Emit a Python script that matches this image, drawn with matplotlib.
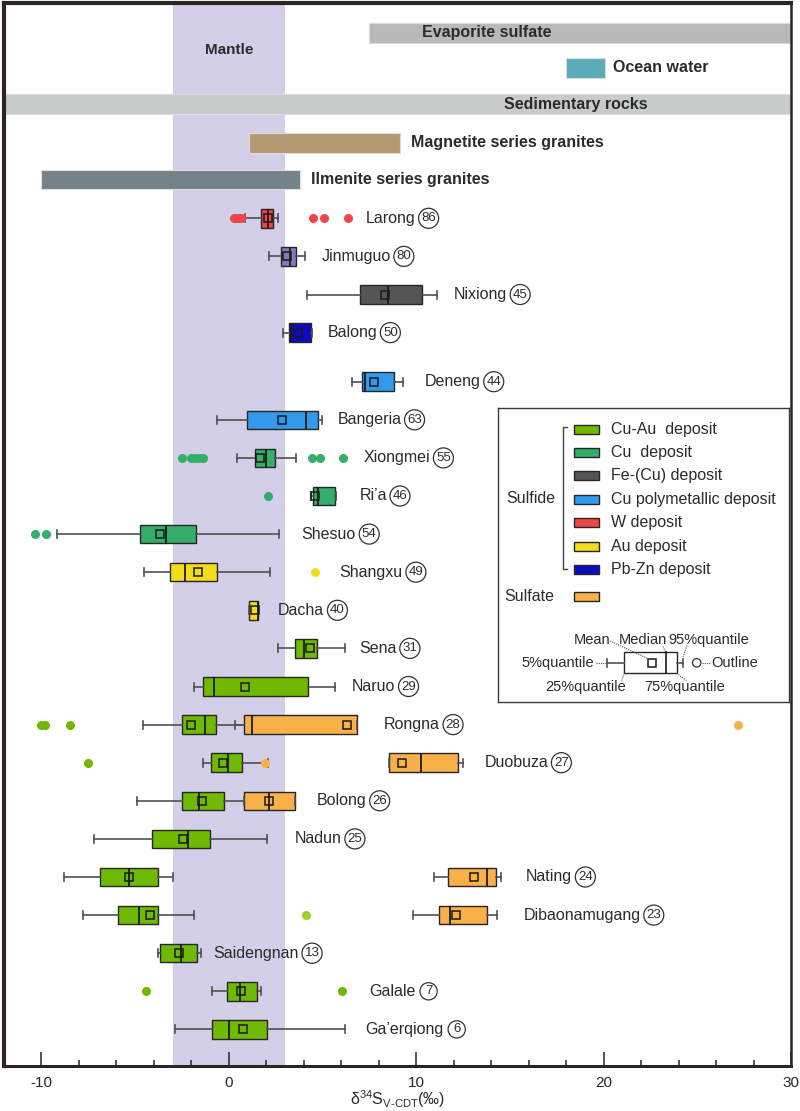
import matplotlib
matplotlib.use("Agg")
import matplotlib.pyplot as plt
from matplotlib.patches import Rectangle, Circle
from matplotlib.ticker import MultipleLocator

plt.rcParams['font.family'] = ['Liberation Sans', 'DejaVu Sans']
plt.rcParams['mathtext.fontset'] = 'custom'
plt.rcParams['mathtext.rm'] = 'Liberation Sans'

# ---------------- data ----------------
deposits = ['Larong', 'Jinmuguo', 'Nixiong', 'Balong', 'Deneng', 'Bangeria', 'Xiongmei',
            "Ri\u2019a", 'Shesuo', 'Shangxu', 'Dacha', 'Sena', 'Naruo', 'Rongna', 'Duobuza',
            'Bolong', 'Nadun', 'Nating', 'Dibaonamugang', 'Saidengnan', 'Galale', "Ga\u2019erqiong"]
counts = [86, 80, 45, 50, 44, 63, 55, 46, 54, 49, 40, 31, 29, 28, 27, 26, 25, 24, 23, 13, 7, 6]
dep_type = ['W', 'Mo', 'Fe-(Cu)', 'Pb-Zn', 'Cu poly', 'Cu poly', 'Cu', 'Cu', 'Cu', 'Au', 'Au',
            'Cu-Au', 'Cu-Au', 'Cu-Au', 'Cu-Au', 'Cu-Au', 'Cu-Au', 'Cu-Au', 'Cu-Au', 'Cu-Au',
            'Cu-Au', 'Cu-Au']

# sulfide statistics (permil)
sf_whislo = [0.85, 2.15, 4.18, 2.9, 6.59, -0.62, 0.46, 4.41, -9.16, -4.53, 1.07, 2.63, -1.88,
             -4.6, -1.37, -4.9, -7.21, -8.81, -7.79, -3.78, -0.88, -2.89]
sf_q1 = [1.74, 2.77, 6.98, 3.2, 7.09, 0.98, 1.37, 4.5, -4.74, -3.12, 1.07, 3.54, -1.39,
         -2.5, -0.96, -2.5, -4.08, -6.9, -5.91, -3.69, -0.09, -0.88]
sf_med = [2.1, 3.27, 8.49, 3.3, 7.25, 4.1, 1.97, 4.76, -3.34, -2.34, 1.55, 4.02, -0.8,
          -1.28, -0.07, -1.6, -2.2, -5.34, -4.79, -2.57, 0.61, 0.0]
sf_mean = [2.1, 3.11, 8.33, 3.7, 7.76, 2.83, 1.67, 4.58, -3.65, -1.67, 1.39, 4.34, 0.84,
           -2.0, -0.3, -1.44, -2.43, -5.34, -4.21, -2.68, 0.64, 0.77]
sf_q3 = [2.37, 3.59, 10.3, 4.41, 8.79, 4.78, 2.47, 5.68, -1.74, -0.64, 1.57, 4.73, 4.23,
         -0.69, 0.71, -0.25, -0.99, -3.76, -3.8, -1.68, 1.51, 2.02]
sf_whishi = [2.63, 4.09, 11.1, 4.45, 9.29, 4.97, 3.59, 5.74, 2.66, 2.19, 1.57, 6.22, 5.65,
             1.0, 2.1, 2.33, 2.02, -3.0, -1.88, -1.51, 1.69, 6.22]
sf_fliers = [[0.25, 0.4, 0.55, 0.65, 4.5, 5.08, 6.36], [], [], [], [], [],
             [-2.5, -2.0, -1.8, -1.6, -1.4, 4.46, 4.85, 6.09], [2.08], [-10.37, -9.77], [4.58],
             [], [], [], [-10.0, -9.8, -8.5], [-7.51], [], [], [], [4.1], [], [-4.42, 6.02], []]

# sulfate statistics
so_deposits = ['Rongna', 'Duobuza', 'Bolong', 'Nating', 'Dibaonamugang']
so_whislo = [0.32, 8.52, 0.82, 10.94, 9.82]
so_q1 = [0.82, 8.52, 0.82, 11.72, 11.24]
so_med = [1.26, 10.25, 2.15, 13.75, 11.8]
so_mean = [6.29, 9.25, 2.15, 13.07, 12.13]
so_q3 = [6.82, 12.25, 3.52, 14.23, 13.75]
so_whishi = [6.82, 12.49, 3.52, 14.53, 14.32]
so_fliers = [[27.15], [1.92], [], [], []]

# reference reservoirs
ref_names = ['Evaporite sulfate', 'Ocean water', 'Sedimentary rocks',
             'Magnetite series granites', 'Ilmenite series granites']
ref_lo = [7.5, 18.0, -12.0, 1.1, -10.05]
ref_hi = [30.0, 20.1, 30.0, 9.15, 3.82]
mantle_lo, mantle_hi = -3.0, 3.0

legend_types = ['Cu-Au', 'Cu', 'Fe-(Cu)', 'Cu poly', 'W', 'Au', 'Pb-Zn']
legend_labels = ['Cu-Au  deposit', 'Cu  deposit', 'Fe-(Cu) deposit', 'Cu polymetallic deposit',
                 'W deposit', 'Au deposit', 'Pb-Zn deposit']

# ---------------- styles / layout ----------------
type_color = {'Cu-Au': '#6fb900', 'Cu': '#34ae6a', 'Fe-(Cu)': '#555555', 'Cu poly': '#3399ea',
              'W': '#f04545', 'Au': '#f3dc1a', 'Pb-Zn': '#0b0cbf', 'Mo': '#8877bd'}
sulfate_color = '#f8b048'
ref_colors = ['#b9b9b9', '#58abb7', '#c9cbca', '#b39a73', '#758389']
ref_y = [33, 68, 104, 143, 179.5]
ref_h = [20, 20, 20, 20, 19]
ref_text_x = [10.3, 20.5, 18.5, 9.7, 4.4]
ref_text_ha = ['left', 'left', 'center', 'left', 'left']
label_x = [7.3, 4.94, 12.0, 5.26, 10.45, 5.79, 7.19, 6.96, 3.89, 5.91, 2.63, 6.96, 6.57,
           8.28, 13.64, 4.69, 3.52, 15.86, 15.72, -0.82, 7.48, 7.28]
row_y = [218.3 + 38.1 * i + (11 if i >= 4 else 0) for i in range(len(deposits))]
so_y = [row_y[deposits.index(n)] for n in so_deposits]
txt_col = '#2b2b2b'

fig = plt.figure(figsize=(8, 11.11), dpi=100)
ax = fig.add_axes([4 / 800, 1 - 1066 / 1111, 787 / 800, 1063 / 1111])
ax.set_xlim(-12, 30)
ax.set_ylim(1066, 3)

ax.axvspan(mantle_lo, mantle_hi, color='#d3cfe8', zorder=0, lw=0)
ax.text((mantle_lo + mantle_hi) / 2, 50, 'Mantle', ha='center', va='center',
        fontsize=11, fontweight='bold', color=txt_col)

for name, lo, hi, c, y, h, tx, ha in zip(ref_names, ref_lo, ref_hi, ref_colors, ref_y, ref_h,
                                         ref_text_x, ref_text_ha):
    ax.barh(y, hi - lo, left=lo, height=h, color=c, edgecolor='#dcdcdc', lw=0.8, zorder=1)
    ax.text(tx, y, name, ha=ha, va='center', fontsize=11.5, fontweight='bold', color=txt_col,
            zorder=3)


def make_stats(wl, q1, md, mn, q3, wh, fl):
    return [dict(whislo=a, q1=b, med=c, mean=d, q3=e, whishi=f, fliers=g)
            for a, b, c, d, e, f, g in zip(wl, q1, md, mn, q3, wh, fl)]


common = dict(orientation='horizontal', widths=18.5, capwidths=8, patch_artist=True,
              showmeans=True, manage_ticks=False, zorder=4,
              boxprops=dict(edgecolor='#262626', linewidth=1.0),
              medianprops=dict(color='#1a1a1a', linewidth=1.3),
              whiskerprops=dict(color='#505050', linewidth=1.2),
              capprops=dict(color='#505050', linewidth=1.2),
              meanprops=dict(marker='s', markerfacecolor='none', markeredgecolor='#1a1a1a',
                             markersize=6, markeredgewidth=1.1),
              flierprops=dict(marker='o', markersize=6.5, markeredgewidth=0))

sf = ax.bxp(make_stats(sf_whislo, sf_q1, sf_med, sf_mean, sf_q3, sf_whishi, sf_fliers),
            positions=row_y, **common)
for i, t in enumerate(dep_type):
    c = type_color[t]
    sf['boxes'][i].set_facecolor(c)
    fc = '#a3cf2a' if deposits[i] == 'Dibaonamugang' else c
    sf['fliers'][i].set_markerfacecolor(fc)
    sf['fliers'][i].set_markeredgecolor(fc)

so = ax.bxp(make_stats(so_whislo, so_q1, so_med, so_mean, so_q3, so_whishi, so_fliers),
            positions=so_y, **common)
for i in range(len(so_deposits)):
    so['boxes'][i].set_facecolor(sulfate_color)
    so['fliers'][i].set_markerfacecolor(sulfate_color)
    so['fliers'][i].set_markeredgecolor(sulfate_color)

for name, n, x, y in zip(deposits, counts, label_x, row_y):
    t = ax.text(x, y, name, ha='left', va='center', fontsize=11.5, color=txt_col, zorder=5)
    ax.annotate(str(n), xy=(1, 0.5), xycoords=t, xytext=(9.5, 0), textcoords='offset points',
                ha='center', va='center', fontsize=9.5, color=txt_col, zorder=5,
                bbox=dict(boxstyle='circle,pad=0.2', fc='white', ec='#333333', lw=0.9))

# axes styling
for s in ['left', 'top']:
    ax.spines[s].set_linewidth(3)
    ax.spines[s].set_color('#2b2523')
ax.spines['right'].set_linewidth(1.8)
ax.spines['right'].set_color('#2b2523')
ax.spines['bottom'].set_linewidth(2.2)
ax.spines['bottom'].set_color('#2b2523')
ax.set_yticks([])
ax.xaxis.set_major_locator(MultipleLocator(10))
ax.xaxis.set_minor_locator(MultipleLocator(2))
ax.tick_params(axis='x', which='major', direction='in', length=10, width=1.1,
               labelsize=11, colors='#2b2523', pad=7)
ax.tick_params(axis='x', which='minor', direction='in', length=4, width=1.1, colors='#2b2523')
ax.set_xticks([-10, 0, 10, 20, 30])
ax.set_xticklabels(['-10', '0', '10', '20', '30'])
ax.set_xlabel('\u03b4$^{34}$S$_{\\mathregular{V\\text{-}CDT}}$(\u2030)', fontsize=11.5,
              color=txt_col, labelpad=-1)

# ---------------- legend panel (pixel coordinates) ----------------
L, R, T, B = 498, 789, 408, 702
lg = fig.add_axes([L / 800, 1 - B / 1111, (R - L) / 800, (B - T) / 1111])
lg.set_xlim(L, R)
lg.set_ylim(B, T)
lg.set_xticks([])
lg.set_yticks([])
for s in lg.spines.values():
    s.set_linewidth(1.0)
    s.set_color('#3a3a3a')
lg.set_zorder(10)

leg_rows = [429, 452.3, 475.7, 499, 522.3, 546.3, 569]
for t, lab, y in zip(legend_types, legend_labels, leg_rows):
    lg.add_patch(Rectangle((574, y - 4.5), 24.5, 9, fc=type_color[t], ec='#262626', lw=1))
    lg.text(611, y, lab, ha='left', va='center', fontsize=11.5, color=txt_col)
lg.add_patch(Rectangle((574, 596.7 - 4.5), 24.5, 9, fc=sulfate_color, ec='#262626', lw=1))
lg.text(506, 498, 'Sulfide', ha='left', va='center', fontsize=11.5, color=txt_col)
lg.text(504, 596.7, 'Sulfate', ha='left', va='center', fontsize=11.5, color=txt_col)
lg.plot([567, 563, 563, 567], [427, 427, 569, 569], color='#444444', lw=1)

# box diagram
by0, by1 = 652.3, 673.3
bym = (by0 + by1) / 2
lg.add_patch(Rectangle((624.3, by0), 52.4, by1 - by0, fc='white', ec='#262626', lw=1))
lg.plot([665.7, 665.7], [by0, by1], color='#1a1a1a', lw=1.2)
lg.plot([651.7], [bym], marker='s', mfc='none', mec='#1a1a1a', ms=6, mew=1.1)
lg.plot([607.3, 624.3], [bym, bym], color='#505050', lw=1.2)
lg.plot([676.7, 682.7], [bym, bym], color='#505050', lw=1.2)
lg.plot([607.3, 607.3], [bym - 4, bym + 4], color='#505050', lw=1.2)
lg.plot([682.7, 682.7], [bym - 4, bym + 4], color='#505050', lw=1.2)
lg.add_patch(Circle((696.7, bym), 4.2, fc='white', ec='#333333', lw=0.9))
fs2 = 10.5
lg.text(610, 639.5, 'Mean', ha='right', va='center', fontsize=fs2, color=txt_col)
lg.text(619, 639.5, 'Median', ha='left', va='center', fontsize=fs2, color=txt_col)
lg.text(668, 639.5, '95%quantile', ha='left', va='center', fontsize=fs2, color=txt_col)
lg.text(594, bym, '5%quantile', ha='right', va='center', fontsize=fs2, color=txt_col)
lg.text(711, bym, 'Outline', ha='left', va='center', fontsize=fs2, color=txt_col)
lg.text(545, 686.5, '25%quantile', ha='left', va='center', fontsize=fs2, color=txt_col)
lg.text(644, 686.5, '75%quantile', ha='left', va='center', fontsize=fs2, color=txt_col)
dot = dict(color='#555555', lw=0.8, ls=(0, (1, 1)))
lg.plot([610, 649], [641, 659], **dot)
lg.plot([663, 665.7], [646.5, by0], **dot)
lg.plot([687, 683], [645.5, 657], **dot)
lg.plot([596, 606], [bym, bym], **dot)
lg.plot([701.5, 710], [bym, bym], **dot)
lg.plot([624.3, 621.5], [by1, 681], **dot)
lg.plot([676.7, 687], [by1, 681], **dot)

fig.savefig('out.png', dpi=100)
